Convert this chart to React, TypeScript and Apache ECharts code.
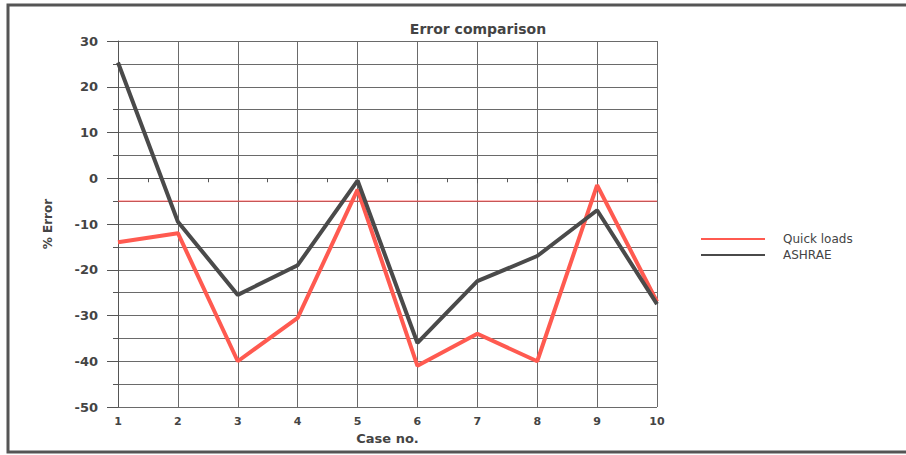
import React, { useEffect, useRef } from "react";
import * as echarts from "echarts";

const cases = [1, 2, 3, 4, 5, 6, 7, 8, 9, 10];
const quickLoads = [-14, -12, -40, -30.5, -2.5, -41, -34, -40, -1.5, -27];
const ashrae = [25.3, -9.5, -25.5, -19, -0.5, -36, -22.5, -17, -7, -27.5];
const referenceLevel = -5;
const seriesNames = ["Quick loads", "ASHRAE"];

const FONT = "DejaVu Sans";
const TEXT = "#444";
const GRID = "#6a6a6a";

export default function App() {
  const ref = useRef<HTMLDivElement>(null);
  useEffect(() => {
    if (!ref.current) return;
    const chart = echarts.init(ref.current, null, { renderer: "svg" });
    chart.setOption({
      animation: false,
      backgroundColor: "#fff",
      title: {
        text: "Error comparison",
        left: 473,
        top: 17,
        textAlign: "center",
        textStyle: { fontFamily: FONT, fontSize: 14, fontWeight: "bold", color: TEXT },
      },
      legend: {
        orient: "vertical",
        left: 696,
        top: 228,
        itemWidth: 64,
        itemHeight: 2,
        itemGap: 4,
        icon: "rect",
        data: seriesNames,
        textStyle: { fontFamily: FONT, fontSize: 12, color: TEXT, padding: [0, 0, 0, 13] },
      },
      graphic: [
        {
          type: "rect",
          shape: { x: 8, y: 5, width: 920, height: 447 },
          style: { fill: "none", stroke: "#555", lineWidth: 3 },
          silent: true,
        },
      ],
      grid: { left: 118, right: 249, top: 41, bottom: 48 },
      xAxis: {
        type: "value",
        min: 1,
        max: 10,
        interval: 1,
        name: "Case no.",
        nameLocation: "middle",
        nameGap: 22,
        nameTextStyle: { fontFamily: FONT, fontSize: 13, fontWeight: "bold", color: TEXT },
        axisLine: { show: true, lineStyle: { color: "#555", width: 1 } },
        axisTick: { show: true, length: 5, lineStyle: { color: "#555" } },
        minorTick: { show: true, splitNumber: 2, length: 4, lineStyle: { color: "#555" } },
        axisLabel: { fontFamily: FONT, fontSize: 11, fontWeight: "bold", color: TEXT, margin: 9 },
        splitLine: { show: true, lineStyle: { color: GRID, width: 1 } },
      },
      yAxis: {
        type: "value",
        min: -50,
        max: 30,
        interval: 10,
        name: "% Error",
        nameLocation: "middle",
        nameGap: 64,
        nameTextStyle: { fontFamily: FONT, fontSize: 12, fontWeight: "bold", color: TEXT },
        axisLine: { show: true, lineStyle: { color: "#555", width: 1 } },
        axisTick: { show: true, length: 11, lineStyle: { color: "#555" } },
        minorTick: { show: true, splitNumber: 2, length: 5, lineStyle: { color: "#555" } },
        axisLabel: { fontFamily: FONT, fontSize: 13, fontWeight: "bold", color: TEXT, margin: 20 },
        splitLine: { show: true, lineStyle: { color: GRID, width: 1 } },
        minorSplitLine: { show: true, lineStyle: { color: GRID, width: 1 } },
      },
      series: [
        {
          name: "reference",
          type: "line",
          data: [
            [cases[0], referenceLevel],
            [cases[cases.length - 1], referenceLevel],
          ],
          symbol: "none",
          silent: true,
          color: "#ff4a4a",
          lineStyle: { width: 1, color: "#ff4a4a" },
          z: 2,
        },
        {
          name: seriesNames[0],
          type: "line",
          data: cases.map((c, i) => [c, quickLoads[i]]),
          symbol: "none",
          color: "#ff5a50",
          lineStyle: { width: 4, color: "#ff5a50" },
          z: 3,
        },
        {
          name: seriesNames[1],
          type: "line",
          data: cases.map((c, i) => [c, ashrae[i]]),
          symbol: "none",
          color: "#4a4a4a",
          lineStyle: { width: 4, color: "#4a4a4a" },
          z: 4,
        },
      ],
    });
    return () => chart.dispose();
  }, []);
  return (
    <div
      ref={ref}
      style={{ position: "fixed", left: 0, top: 0, width: 906, height: 455 }}
    />
  );
}
